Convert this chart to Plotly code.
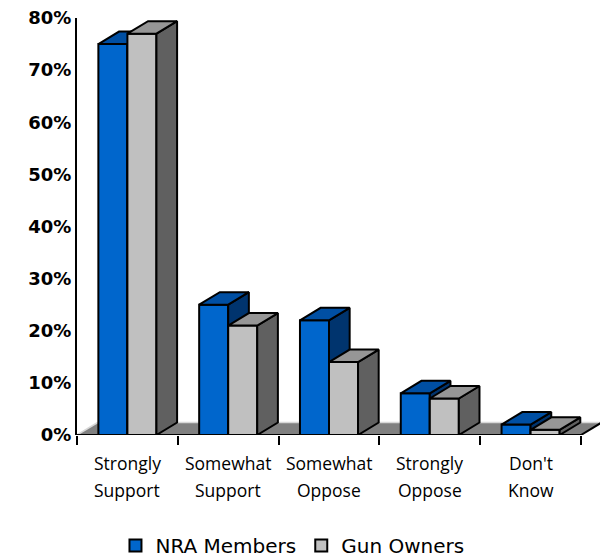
import plotly.graph_objects as go

# ---- data ----
categories = ["Strongly Support", "Somewhat Support", "Somewhat Oppose", "Strongly Oppose", "Don't Know"]
nra_members = [75, 25, 22, 8, 2]
gun_owners = [77, 21, 14, 7, 1]
y_ticks = [0, 10, 20, 30, 40, 50, 60, 70, 80]
y_tick_labels = [f"{v}%" for v in y_ticks]

# ---- style / geometry (data units) ----
BAR_W = 0.288
DX = 0.205   # depth offset along x (category units)
DY = 2.4     # depth offset along y (percent units)
N = len(categories)
X_MIN, X_MAX = -0.5, -0.5 + 523 / 100.8
Y_MIN, Y_MAX = 0, 80

NRA_FRONT, NRA_TOP, NRA_SIDE = "#0066CC", "#004FA3", "#00346E"
GUN_FRONT, GUN_TOP, GUN_SIDE = "#C0C0C0", "#969696", "#606060"

xs = list(range(N))


def face_traces(values, offset, top_col, side_col, xa, ya):
    tx, ty, sx, sy = [], [], [], []
    for i, v in zip(xs, values):
        x0 = i + offset
        x1 = x0 + BAR_W
        sx += [x1, x1 + DX, x1 + DX, x1, x1, None]
        sy += [0, DY, v + DY, v, 0, None]
        tx += [x0, x0 + DX, x1 + DX, x1, x0, None]
        ty += [v, v + DY, v + DY, v, v, None]
    common = dict(mode="lines", fill="toself", line=dict(color="black", width=2),
                  showlegend=False, hoverinfo="skip", xaxis=xa, yaxis=ya)
    return [go.Scatter(x=sx, y=sy, fillcolor=side_col, **common),
            go.Scatter(x=tx, y=ty, fillcolor=top_col, **common)]


fig = go.Figure()

# NRA bars (base subplot)
fig.add_trace(go.Bar(name="NRA Members", x=xs, y=nra_members, width=BAR_W, offset=-BAR_W,
                     marker=dict(color=NRA_FRONT, line=dict(color="black", width=2)),
                     xaxis="x", yaxis="y"))
for t in face_traces(nra_members, -BAR_W, NRA_TOP, NRA_SIDE, "x", "y"):
    fig.add_trace(t)

# Gun owners bars (overlay subplot, drawn on top)
fig.add_trace(go.Bar(name="Gun Owners", x=xs, y=gun_owners, width=BAR_W, offset=0,
                     marker=dict(color=GUN_FRONT, line=dict(color="black", width=2)),
                     xaxis="x2", yaxis="y2"))
for t in face_traces(gun_owners, 0, GUN_TOP, GUN_SIDE, "x2", "y2"):
    fig.add_trace(t)

# floor
fx0, fx1 = -0.5, N - 0.5
shapes = [
    dict(type="path", xref="x", yref="y", layer="below",
         path=f"M{fx0},0 L{fx1},0 L{fx1 + DX},{DY} L{fx0 + DX},{DY} Z",
         fillcolor="#808080", line=dict(width=0)),
    dict(type="line", xref="x", yref="y", layer="below",
         x0=fx0 + DX, y0=DY, x1=fx1 + DX, y1=DY, line=dict(color="#D8D8D8", width=1.5)),
    dict(type="line", xref="x", yref="y", layer="below",
         x0=fx0, y0=0, x1=fx0 + DX, y1=DY, line=dict(color="#D8D8D8", width=1.5)),
    dict(type="line", xref="x", yref="y", layer="above",
         x0=fx0, y0=0, x1=fx1, y1=0, line=dict(color="black", width=2)),
    dict(type="line", xref="x", yref="y", layer="above",
         x0=fx1, y0=0, x1=fx1 + DX, y1=DY, line=dict(color="black", width=2)),
]

# category labels (two lines each)
annotations = []
for i, c in enumerate(categories):
    first, second = c.split(" ", 1)
    for txt, yp in ((first, -0.066), (second, -0.132)):
        annotations.append(dict(x=i, y=yp, xref="x", yref="paper", text=txt, showarrow=False,
                                xanchor="center", yanchor="middle",
                                font=dict(family="Open Sans", size=17.5, color="black")))

fig.update_layout(
    width=601, height=559,
    margin=dict(l=77, r=1, t=18, b=124, autoexpand=False),
    paper_bgcolor="white", plot_bgcolor="white",
    shapes=shapes, annotations=annotations,
    showlegend=True,
    legend=dict(orientation="h", x=0.412, xanchor="center", y=-0.265, yanchor="middle",
                font=dict(family="DejaVu Sans", size=20, color="black"),
                itemwidth=30, traceorder="normal"),
    xaxis=dict(range=[X_MIN, X_MAX], showgrid=False, zeroline=False, showline=False,
               automargin=False,
               tickmode="array", tickvals=[i - 0.5 for i in range(N + 1)],
               showticklabels=False, ticks="outside", ticklen=9, tickwidth=2, tickcolor="black"),
    yaxis=dict(range=[Y_MIN, Y_MAX], showgrid=False, zeroline=False, showline=True,
               automargin=False,
               linecolor="black", linewidth=2, ticks="",
               tickmode="array", tickvals=y_ticks, ticktext=y_tick_labels,
               ticklabelstandoff=0,
               tickfont=dict(family="DejaVu Sans", size=18, color="black", weight="bold")),
    xaxis2=dict(overlaying="x", range=[X_MIN, X_MAX], visible=False),
    yaxis2=dict(overlaying="y", range=[Y_MIN, Y_MAX], visible=False),
)

fig.write_html("out.html", config={"displayModeBar": False},
               post_script="document.body.style.margin='0';document.body.style.padding='0';")
